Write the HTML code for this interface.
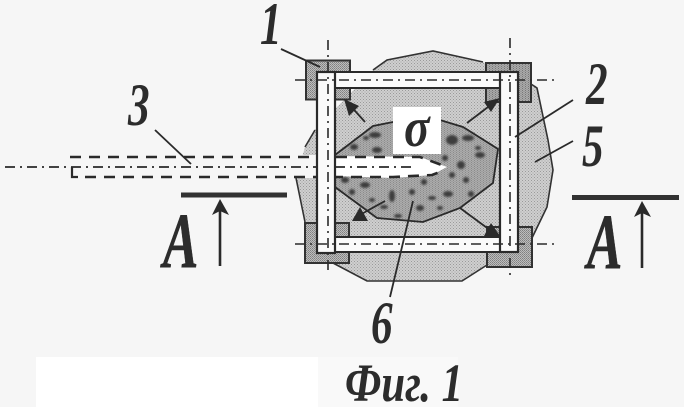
<!DOCTYPE html>
<html><head><meta charset="utf-8"><style>
html,body{margin:0;padding:0;background:#f6f6f6}
svg{display:block}
text{font-family:"Liberation Serif",serif;font-style:italic;font-weight:bold;fill:#2c2c2c}
</style></head><body>
<svg width="684" height="407" viewBox="0 0 684 407" xmlns="http://www.w3.org/2000/svg">
<defs>
<pattern id="d1" width="3" height="3" patternUnits="userSpaceOnUse"><rect width="3" height="3" fill="#cfcfcf"/><rect width="1" height="1" fill="#9a9a9a"/><rect x="1.5" y="1.5" width="1" height="1" fill="#a5a5a5"/></pattern>
<pattern id="d2" width="2" height="2" patternUnits="userSpaceOnUse"><rect width="2" height="2" fill="#bdbdbd"/><rect width="1" height="1" fill="#808080"/><rect x="1" y="1" width="1" height="1" fill="#909090"/></pattern>
<pattern id="d3" width="3" height="2" patternUnits="userSpaceOnUse"><rect width="3" height="2" fill="#a9a9a9"/><rect width="1" height="1" fill="#777"/><rect x="1.500" y="1" width="1" height="1" fill="#8a8a8a"/></pattern>
<pattern id="d4" width="3" height="2" patternUnits="userSpaceOnUse"><rect width="3" height="2" fill="#ababab"/><rect width="1" height="1" fill="#8a8a8a"/><rect x="1.500" y="1" width="1" height="1" fill="#939393"/></pattern>
<filter id="b"><feGaussianBlur stdDeviation="0.35"/></filter>
<filter id="b2"><feGaussianBlur stdDeviation="1"/></filter>
</defs>
<rect width="684" height="407" fill="#f6f6f6"/>
<rect x="36" y="357" width="282" height="50" fill="#fff"/>
<rect x="318" y="357" width="140" height="50" fill="#f9f9f9"/>
<g filter="url(#b)">
<polygon points="373,70 387,60 433,51 483,62 536,86 548,140 553,170 547,207 532,238 487,265 462,281 367,281 333,263 305,222 296,178 305,147 315,130" fill="url(#d1)"/>
<rect x="290" y="155" width="28" height="23" fill="#f6f6f6"/>
<polyline points="373,70 387,60 433,51 483,62" fill="none" stroke="#333" stroke-width="1.6"/>
<polyline points="531,84 537,88 548,140 553,170 547,207 532,238" fill="none" stroke="#333" stroke-width="1.6"/>
<polyline points="333,263 367,281 462,281 487,265" fill="none" stroke="#333" stroke-width="1.6"/>
<polyline points="305,147 315,130" fill="none" stroke="#333" stroke-width="1.6"/>
<polyline points="296,178 305,222" fill="none" stroke="#333" stroke-width="1.6"/>
<rect x="306" y="60.500" width="44" height="39" fill="url(#d2)" stroke="#333" stroke-width="2"/>
<rect x="486" y="63" width="45" height="39" fill="url(#d3)" stroke="#333" stroke-width="2"/>
<rect x="305" y="223" width="44" height="40" fill="url(#d2)" stroke="#333" stroke-width="2"/>
<rect x="487" y="227" width="45" height="40" fill="url(#d2)" stroke="#333" stroke-width="2"/>
<polygon points="335,155 373,126 393,122 440,120 463,127 498,149 493,183 460,208 423,222 377,218 335,187" fill="url(#d4)" stroke="#2b2b2b" stroke-width="1.8"/>
<g fill="#3c3c3c" filter="url(#b2)">
<ellipse cx="375" cy="135" rx="6" ry="3"/><ellipse cx="354" cy="147" rx="4" ry="3"/><ellipse cx="377" cy="150" rx="5" ry="3"/><ellipse cx="366" cy="138" rx="3" ry="2"/>
<ellipse cx="452" cy="140" rx="6" ry="5"/><ellipse cx="468" cy="138" rx="6" ry="3"/><ellipse cx="480" cy="155" rx="5" ry="3"/><ellipse cx="461" cy="165" rx="4" ry="4"/>
<ellipse cx="445" cy="158" rx="3" ry="3"/><ellipse cx="478" cy="148" rx="3" ry="2"/><ellipse cx="452" cy="175" rx="3" ry="3"/><ellipse cx="345" cy="180" rx="4" ry="3"/>
<ellipse cx="365" cy="185" rx="5" ry="3"/><ellipse cx="352" cy="192" rx="3" ry="3"/><ellipse cx="372" cy="200" rx="3" ry="2"/><ellipse cx="392" cy="196" rx="3" ry="6"/>
<ellipse cx="384" cy="207" rx="4" ry="2"/><ellipse cx="398" cy="216" rx="4" ry="2"/><ellipse cx="420" cy="208" rx="4" ry="3"/><ellipse cx="432" cy="198" rx="4" ry="2"/>
<ellipse cx="448" cy="194" rx="5" ry="3"/><ellipse cx="440" cy="208" rx="3" ry="2"/><ellipse cx="412" cy="192" rx="3" ry="3"/><ellipse cx="424" cy="182" rx="3" ry="3"/>
<ellipse cx="471" cy="194" rx="3" ry="3"/><ellipse cx="466" cy="180" rx="3" ry="3"/>
</g>
<polygon points="335,156 420,157 447,167 432,175 393,178 335,176" fill="#fff"/>
<rect x="393" y="107" width="48" height="47" fill="#fff"/>
<path d="M70,157H420L447,167" fill="none" stroke="#2a2a2a" stroke-width="2.6" stroke-dasharray="11,8"/>
<path d="M85,177H393L432,175 445,170" fill="none" stroke="#2a2a2a" stroke-width="2.6" stroke-dasharray="11,8"/>
<path d="M72,167V177H78" fill="none" stroke="#2a2a2a" stroke-width="2.2"/>
<path d="M5,167H412" fill="none" stroke="#2a2a2a" stroke-width="1.8" stroke-dasharray="10,5,2,5"/>
<rect x="335" y="72" width="165" height="16" fill="#fafafa" stroke="#2a2a2a" stroke-width="2"/>
<rect x="335" y="237" width="165" height="15" fill="#fafafa" stroke="#2a2a2a" stroke-width="2"/>
<rect x="317" y="72" width="18" height="181" fill="#fafafa" stroke="#2a2a2a" stroke-width="2.2"/>
<rect x="500" y="72" width="18" height="180" fill="#fafafa" stroke="#2a2a2a" stroke-width="2.2"/>
<path d="M295,80H555" fill="none" stroke="#2a2a2a" stroke-width="1.6" stroke-dasharray="10,5,2,5"/>
<path d="M295,244H555" fill="none" stroke="#2a2a2a" stroke-width="1.6" stroke-dasharray="10,5,2,5"/>
<path d="M328,40V273" fill="none" stroke="#2a2a2a" stroke-width="1.6" stroke-dasharray="10,5,2,5"/>
<path d="M510,38V275" fill="none" stroke="#2a2a2a" stroke-width="1.6" stroke-dasharray="10,5,2,5"/>
<g stroke="#2a2a2a" stroke-width="1.8" fill="#2a2a2a">
<line x1="365" y1="122" x2="347" y2="102"/><polygon points="344,99 359,106 349,116" stroke="none"/>
<line x1="467" y1="123" x2="492" y2="104"/><polygon points="500,98 491,112 484,102" stroke="none"/>
<line x1="385" y1="201" x2="358" y2="216"/><polygon points="352,221 368,221 360,207" stroke="none"/>
<line x1="460" y1="208" x2="498" y2="236"/><polygon points="484,236 500,236 491,223" stroke="none"/>
</g>
<g stroke="#2a2a2a" stroke-width="1.8" fill="none">
<line x1="281" y1="49" x2="320" y2="67"/>
<line x1="515" y1="137" x2="573" y2="100"/>
<line x1="535" y1="162" x2="573" y2="141"/>
<line x1="155" y1="130" x2="191" y2="164"/>
<line x1="413" y1="201" x2="390" y2="297"/>
</g>
<rect x="181" y="192.500" width="106" height="5" fill="#333"/>
<rect x="572" y="195" width="107" height="5" fill="#333"/>
<g stroke="#2a2a2a" stroke-width="2.6"><line x1="220" y1="266" x2="220" y2="205"/><line x1="642" y1="268" x2="642" y2="208"/></g>
<polygon points="220,199 229,215 220,211 212,215" fill="#2a2a2a"/>
<polygon points="642,201 651,217 642,213 634,217" fill="#2a2a2a"/>
</g>
<text transform="translate(260,44) scale(.72,1)" font-size="60">1</text>
<text transform="translate(586,104) scale(.72,1)" font-size="60">2</text>
<text transform="translate(128,125) scale(.72,1)" font-size="60">3</text>
<text transform="translate(582,166) scale(.72,1)" font-size="60">5</text>
<text transform="translate(371,343) scale(.72,1)" font-size="60">6</text>
<text transform="translate(163,267) scale(.68,1)" font-size="78" stroke="#2c2c2c" stroke-width=".6">A</text>
<text transform="translate(587,268) scale(.68,1)" font-size="78" stroke="#2c2c2c" stroke-width=".6">A</text>
<text transform="translate(404,146) scale(.85,1)" font-size="56">σ</text>
<text x="345" y="401" font-size="54" textLength="118" lengthAdjust="spacingAndGlyphs">Фиг. 1</text>
</svg>
</body></html>
